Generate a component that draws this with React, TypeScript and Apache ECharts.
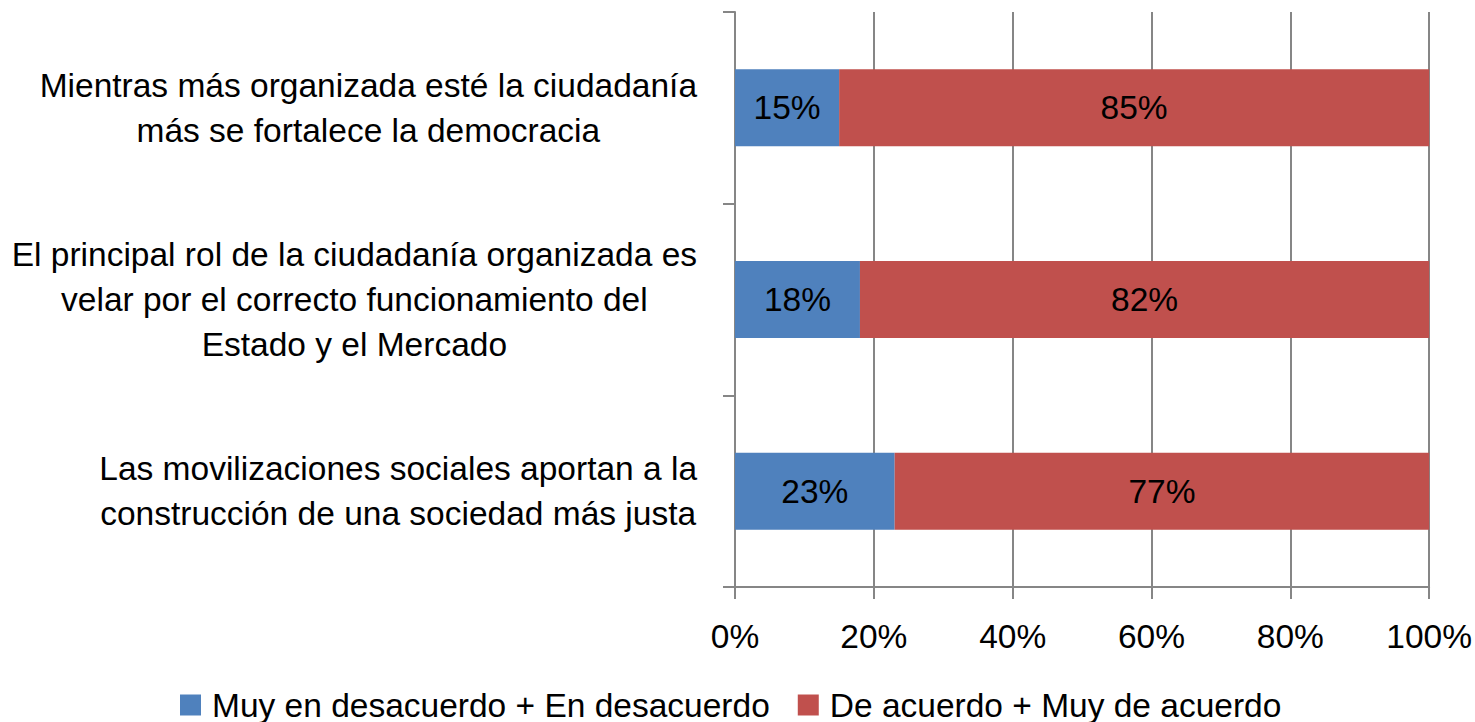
import React, { useEffect, useRef } from "react";
import * as echarts from "echarts";

const categories = [
  "Mientras más organizada esté la ciudadanía\nmás se fortalece la democracia",
  "El principal rol de la ciudadanía organizada es\nvelar por el correcto funcionamiento del\nEstado y el Mercado",
  "Las movilizaciones sociales aportan a la\nconstrucción de una sociedad más justa",
];
const seriesNames = ["Muy en desacuerdo + En desacuerdo", "De acuerdo + Muy de acuerdo"];
const disagree = [15, 18, 23];
const agree = [85, 82, 77];
const xTicks = { min: 0, max: 100, interval: 20 };

const FONT = "Liberation Sans";
const FS = 33.5;
const GRAY = "#868686";

export default function App() {
  const ref = useRef<HTMLDivElement>(null);
  useEffect(() => {
    if (!ref.current) return;
    const chart = echarts.init(ref.current, null, { renderer: "svg" });
    chart.setOption({
      animation: false,
      textStyle: { fontFamily: FONT },
      grid: { left: 735, right: 44, top: 12, bottom: 135, containLabel: false },
      legend: {
        data: seriesNames,
        left: 175,
        top: 683,
        icon: "rect",
        itemWidth: 21,
        itemHeight: 21,
        itemGap: 28,
        textStyle: { fontSize: FS, color: "#000", fontFamily: FONT, padding: [0, 0, 0, 6] },
      },
      xAxis: {
        type: "value",
        min: xTicks.min,
        max: xTicks.max,
        interval: xTicks.interval,
        axisLabel: { formatter: "{value}%", fontSize: FS, color: "#000", margin: 32, fontFamily: FONT },
        axisLine: { show: true, lineStyle: { color: GRAY, width: 2 } },
        axisTick: { show: true, length: 12, lineStyle: { color: GRAY, width: 2 } },
        splitLine: { show: true, lineStyle: { color: GRAY, width: 2 } },
      },
      yAxis: {
        type: "category",
        inverse: true,
        data: categories,
        axisLine: { show: true, lineStyle: { color: GRAY, width: 2 } },
        axisTick: { show: true, length: 12, alignWithLabel: false, lineStyle: { color: GRAY, width: 2 } },
        axisLabel: {
          margin: 38,
          color: "#000",
          fontSize: FS,
          fontFamily: FONT,
          align: "right",
          formatter: (v: string) =>
            v
              .split("\n")
              .map((l) => `{c|${l}}`)
              .join("\n"),
          rich: { c: { align: "center", fontSize: FS, lineHeight: 45, fontFamily: FONT, color: "#000" } },
        },
      },
      series: [
        {
          name: seriesNames[0],
          type: "bar",
          stack: "total",
          barWidth: 77,
          data: disagree,
          itemStyle: { color: "#4F81BD" },
          label: { show: true, position: "inside", formatter: "{c}%", color: "#000", fontSize: FS, fontFamily: FONT },
        },
        {
          name: seriesNames[1],
          type: "bar",
          stack: "total",
          barWidth: 77,
          data: agree,
          itemStyle: { color: "#C0504D" },
          label: { show: true, position: "inside", formatter: "{c}%", color: "#000", fontSize: FS, fontFamily: FONT },
        },
      ],
    });
    return () => chart.dispose();
  }, []);
  return <div ref={ref} style={{ width: 1475, height: 722, position: "absolute", left: 0, top: 0 }} />;
}
